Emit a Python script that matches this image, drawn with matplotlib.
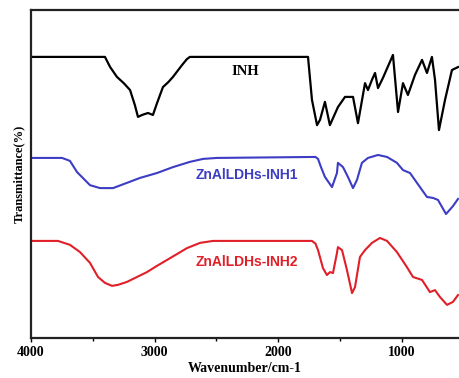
import numpy as np
from matplotlib import pyplot as plt
from matplotlib.ticker import MultipleLocator

# FTIR spectra (wavenumber in cm-1, transmittance in arbitrary %)
wn_inh = [4000, 3402, 3360, 3305, 3250, 3199, 3160, 3135, 3102, 3054, 3014, 2981, 2933, 2890,
          2852, 2779, 2740, 2715, 1760, 1728, 1687, 1663, 1623, 1583, 1518, 1461, 1396, 1356,
          1299, 1275, 1243, 1218, 1194, 1154, 1073, 1032, 992, 952, 895, 838, 798, 758, 733,
          701, 652, 596, 547]
t_inh = [85.7, 85.7, 82.6, 79.6, 77.7, 75.6, 71.0, 67.4, 68.0, 68.6, 68.0, 71.6, 76.5, 78.0,
         79.6, 83.2, 85.0, 85.7, 85.7, 72.6, 64.9, 66.5, 72.0, 64.9, 70.4, 73.5, 73.5, 65.5,
         77.7, 75.6, 78.7, 80.8, 76.2, 79.3, 86.3, 68.9, 77.7, 74.1, 80.2, 84.8, 80.8, 85.7, 78.7,
         63.4, 72.6, 81.7, 82.6]

wn_inh1 = [4000, 3749, 3685, 3628, 3523, 3442, 3337, 3224, 3119, 2981, 2852, 2715, 2609, 2496,
           1700, 1679, 1655, 1623, 1566, 1526, 1518, 1477, 1437, 1396, 1364, 1324, 1275, 1194,
           1121, 1041, 992, 935, 879, 798, 749, 709, 644, 588, 547]
t_inh1 = [54.9, 54.9, 54.0, 50.6, 46.6, 45.7, 45.7, 47.3, 48.8, 50.3, 52.1, 53.7, 54.6, 54.9,
          55.2, 54.6, 52.1, 49.1, 46.0, 50.3, 53.4, 52.1, 49.1, 45.7, 48.2, 53.4, 54.9, 55.8,
          55.2, 53.4, 51.2, 50.3, 47.3, 43.0, 42.7, 42.1, 37.8, 40.2, 42.4]

wn_inh2 = [4000, 3782, 3685, 3604, 3523, 3458, 3402, 3345, 3297, 3224, 3143, 3062, 2981, 2900,
           2819, 2739, 2633, 2528, 1728, 1700, 1679, 1639, 1607, 1582, 1558, 1526, 1518, 1485,
           1445, 1404, 1380, 1340, 1299, 1243, 1178, 1121, 1041, 960, 911, 838, 774, 733, 693,
           636, 588, 547]
t_inh2 = [29.6, 29.6, 28.4, 26.2, 22.9, 18.6, 16.8, 15.9, 16.2, 17.1, 18.6, 20.1, 22.0, 23.8,
          25.6, 27.4, 29.0, 29.6, 29.6, 28.8, 26.8, 21.3, 19.2, 20.1, 19.8, 25.9, 27.7, 26.8,
          20.7, 13.7, 15.5, 24.7, 26.8, 29.0, 30.5, 29.6, 26.2, 21.6, 18.6, 17.7, 14.0, 14.6,
          12.5, 10.1, 11.0, 13.1]

names = ["INH", "ZnAlLDHs-INH1", "ZnAlLDHs-INH2"]

serif = "Liberation Serif"
fig = plt.figure(figsize=(4.59, 3.78), dpi=100)
ax = fig.add_axes([31/459, 1-338/378, 1-31/459, 328/378])

ax.plot(wn_inh, t_inh, color="black", lw=1.6)
ax.plot(wn_inh1, t_inh1, color="#3c3cc4", lw=1.5)
ax.plot(wn_inh2, t_inh2, color="#e01f28", lw=1.5)

ax.text(2265, 81.1, names[0], ha="center", va="center", fontsize=10.5,
        fontweight="bold", family=serif)
ax.text(2253, 49.7, names[1], ha="center", va="center", fontsize=10,
        fontweight="bold", family="Liberation Sans", color="#3c3cc4")
ax.text(2253, 23.2, names[2], ha="center", va="center", fontsize=10,
        fontweight="bold", family="Liberation Sans", color="#e01f28")

ax.set_xlim(4000, 539)
ax.set_ylim(0, 100)
ax.xaxis.set_major_locator(MultipleLocator(1000))
ax.xaxis.set_minor_locator(MultipleLocator(500))
ax.set_yticks([])
ax.spines["right"].set_visible(False)
for s in ["left", "bottom", "top"]:
    ax.spines[s].set_linewidth(1.6)
    ax.spines[s].set_color("#222222")
ax.tick_params(axis="x", which="major", length=3, width=1, pad=3)
ax.tick_params(axis="x", which="minor", length=2, width=1)
for lab in ax.get_xticklabels():
    lab.set_fontfamily(serif)
    lab.set_fontweight("bold")
    lab.set_fontsize(10)

ax.set_xlabel("Wavenumber/cm-1", fontsize=10, fontweight="bold", family=serif, labelpad=2)
ax.set_ylabel("Transmittance(%)", fontsize=9, fontweight="bold", family=serif, labelpad=4)

fig.savefig("out.png", dpi=100)
